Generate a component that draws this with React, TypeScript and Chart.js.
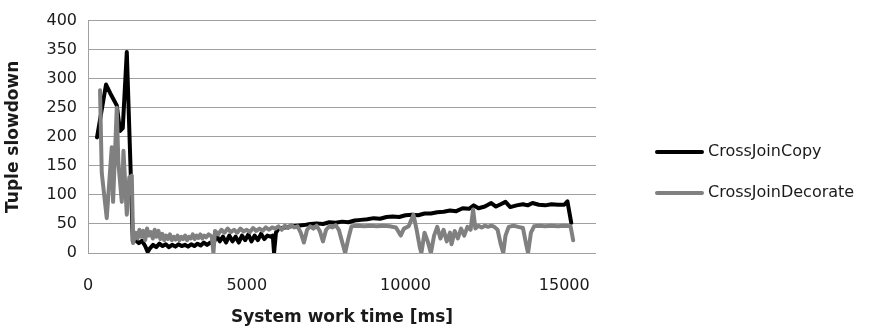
import { useEffect, useRef } from "react";
import { Chart, registerables } from "chart.js";

Chart.register(...registerables);

const seriesNames = ["CrossJoinCopy", "CrossJoinDecorate"];
const seriesColors = ["#000000", "#808080"];

const xTickValues = [0, 5000, 10000, 15000];
const xAxisTitle = "System work time [ms]";
const yAxisTitle = "Tuple slowdown";

const copyX = [
  284, 568, 700, 906, 1010, 1095, 1222, 1348, 1410, 1500, 1600, 1700, 1800, 1880, 1950, 2050,
  2150, 2250, 2350, 2450, 2550, 2650, 2750, 2850, 2950, 3050, 3150, 3250, 3350, 3450, 3550,
  3650, 3750, 3850, 3950, 4050, 4150, 4250, 4350, 4450, 4550, 4650, 4750, 4850, 4950, 5050,
  5150, 5250, 5350, 5450, 5550, 5650, 5750, 5820, 5860, 5920, 6000, 6200, 6400, 6600, 6800,
  7000, 7200, 7400, 7600, 7800, 8000, 8200, 8400, 8600, 8800, 9000, 9200, 9400, 9600, 9800,
  10000, 10200, 10400, 10600, 10800, 11000, 11200, 11400, 11600, 11800, 12000, 12150, 12300,
  12500, 12700, 12850, 13000, 13150, 13300, 13500, 13700, 13850, 14000, 14200, 14400, 14600,
  14800, 15000, 15100, 15220,
];
const copyY = [
  199, 290, 275, 254, 210, 215, 346, 133, 20, 22, 17, 21, 12, 2, 8, 14,
  10, 16, 12, 15, 10, 14, 11, 15, 12, 14, 11, 15, 12, 16, 13,
  18, 14, 18, 16, 30, 20, 28, 18, 30, 20, 28, 18, 30, 22, 32,
  20, 30, 22, 33, 24, 30, 28, 30, 0, 35, 42, 44, 46, 47, 48,
  50, 51, 50, 53, 52, 54, 53, 56, 57, 58, 60, 59, 62, 63, 62,
  65, 66, 65, 68, 68, 70, 71, 73, 72, 77, 76, 82, 77,
  80, 86, 80, 84, 88, 79, 82, 84, 82, 86, 83, 82, 84,
  83, 83, 89, 52,
];

const decorateX = [
  379, 433, 590, 748, 790, 906, 957, 1064, 1117, 1222, 1300, 1380, 1421, 1500, 1560, 1620,
  1680, 1740, 1800, 1860, 1920, 1980, 2040, 2100, 2160, 2220, 2280, 2340, 2400, 2460, 2520,
  2580, 2640, 2700, 2760, 2820, 2880, 2940, 3000, 3060, 3120, 3180, 3240, 3300, 3360, 3420,
  3480, 3540, 3600, 3660, 3720, 3800, 3900, 3950, 4000, 4100, 4200, 4300, 4400, 4500, 4600,
  4700, 4800, 4900, 5000, 5100, 5200, 5300, 5400, 5500, 5600, 5700, 5800, 5900, 6000, 6100,
  6200, 6300, 6400, 6500, 6600, 6700, 6800, 6900, 7000, 7100, 7200, 7300, 7400, 7500, 7600,
  7700, 7800, 7900, 8000, 8100, 8200, 8300, 8500, 8700, 8900, 9100, 9300, 9500, 9700, 9850,
  9950, 10100, 10250, 10350, 10450, 10500, 10600, 10700, 10800, 10900, 11000, 11100, 11200,
  11300, 11400, 11450, 11550, 11650, 11750, 11850, 11950, 12050, 12130, 12200, 12300, 12400,
  12500, 12600, 12700, 12800, 12900, 13000, 13080, 13150, 13250, 13400, 13550, 13700, 13800,
  13860, 13950, 14050, 14200, 14400, 14600, 14800, 15000, 15200, 15280,
];
const decorateY = [
  280, 138, 60, 182, 88, 250, 155, 88, 176, 66, 130, 133, 17, 35, 25, 40,
  28, 38, 22, 42, 30, 36, 25, 40, 28, 38, 24, 33, 22, 30, 24,
  32, 22, 28, 23, 30, 22, 28, 24, 30, 22, 28, 25, 32, 24, 30,
  26, 32, 25, 30, 27, 32, 28, 0, 38, 32, 40, 35, 42, 36, 40,
  35, 42, 37, 40, 36, 43, 38, 42, 38, 44, 40, 44, 42, 46, 40,
  47, 43, 48, 44, 46, 35, 18, 40, 46, 42, 47, 38, 20, 40, 46,
  44, 48, 40, 20, 0, 25, 46, 47, 46, 47, 46, 47, 46, 44, 30,
  42, 46, 66, 40, 10, 0, 35, 20, 0, 30, 45, 25, 40,
  20, 35, 15, 38, 25, 42, 30, 45, 40, 75, 42, 47, 44,
  47, 45, 47, 45, 40, 15, 0, 30, 45, 47, 45, 43, 15,
  0, 35, 46, 47, 46, 47, 46, 47, 46, 22,
];

const FONT = "'DejaVu Sans', sans-serif";

const sideLegend = {
  id: "sideLegend",
  afterDraw(chart: any) {
    const { ctx, chartArea } = chart;
    const x0 = chartArea.right + 61;
    const rows = [152, 193];
    ctx.save();
    seriesNames.forEach((name, i) => {
      const y = rows[i];
      ctx.strokeStyle = seriesColors[i];
      ctx.lineWidth = 4;
      ctx.lineCap = "round";
      ctx.beginPath();
      ctx.moveTo(x0, y);
      ctx.lineTo(x0 + 45, y);
      ctx.stroke();
      ctx.fillStyle = "#1a1a1a";
      ctx.font = `16px ${FONT}`;
      ctx.textAlign = "left";
      ctx.textBaseline = "middle";
      ctx.fillText(name, x0 + 51, y);
    });
    ctx.restore();
  },
};

export default function App() {
  const canvasRef = useRef<HTMLCanvasElement | null>(null);

  useEffect(() => {
    if (!canvasRef.current) return;
    const chart = new Chart(canvasRef.current, {
      type: "line",
      data: {
        datasets: [
          {
            label: seriesNames[0],
            data: copyX.map((x, i) => ({ x, y: copyY[i] })),
            borderColor: seriesColors[0],
            backgroundColor: seriesColors[0],
            borderWidth: 4,
            borderJoinStyle: "round",
            borderCapStyle: "round",
            pointRadius: 0,
            tension: 0,
            order: 1,
          },
          {
            label: seriesNames[1],
            data: decorateX.map((x, i) => ({ x, y: decorateY[i] })),
            borderColor: seriesColors[1],
            backgroundColor: seriesColors[1],
            borderWidth: 4,
            borderJoinStyle: "round",
            borderCapStyle: "round",
            pointRadius: 0,
            tension: 0,
            order: 0,
          },
        ],
      },
      options: {
        animation: false,
        responsive: true,
        maintainAspectRatio: false,
        layout: { padding: { top: 12, right: 287, left: 0, bottom: 0 } },
        plugins: {
          legend: { display: false },
          tooltip: { enabled: false },
        },
        scales: {
          x: {
            type: "linear",
            min: 0,
            max: 16000,
            afterFit: (scale: any) => {
              scale.height = 80;
            },
            afterBuildTicks: (scale: any) => {
              scale.ticks = xTickValues.map((v) => ({ value: v }));
            },
            grid: { display: false, drawTicks: false },
            border: { display: false },
            ticks: {
              color: "#1a1a1a",
              font: { family: FONT, size: 16 },
              padding: 23,
              maxRotation: 0,
              autoSkip: false,
              callback: (v: any) => String(v),
            },
            title: {
              display: true,
              text: xAxisTitle,
              color: "#1a1a1a",
              font: { family: FONT, size: 17, weight: "bold" },
              padding: { top: 0, bottom: 5 },
            },
          },
          y: {
            type: "linear",
            min: 0,
            max: 400,
            afterFit: (scale: any) => {
              scale.width = 88;
            },
            grid: { color: "#a0a0a0", lineWidth: 1, drawTicks: false },
            border: { display: true, color: "#a0a0a0", width: 1 },
            ticks: {
              stepSize: 50,
              color: "#1a1a1a",
              font: { family: FONT, size: 16 },
              padding: 11,
            },
            title: {
              display: true,
              text: yAxisTitle,
              color: "#1a1a1a",
              font: { family: FONT, size: 17, weight: "bold" },
              padding: { top: 3, bottom: 0 },
            },
          },
        },
      },
      plugins: [sideLegend],
    });
    return () => chart.destroy();
  }, []);

  return (
    <div style={{ position: "fixed", left: 0, top: 0, width: 883, height: 333, background: "#fff" }}>
      <canvas ref={canvasRef} />
    </div>
  );
}
